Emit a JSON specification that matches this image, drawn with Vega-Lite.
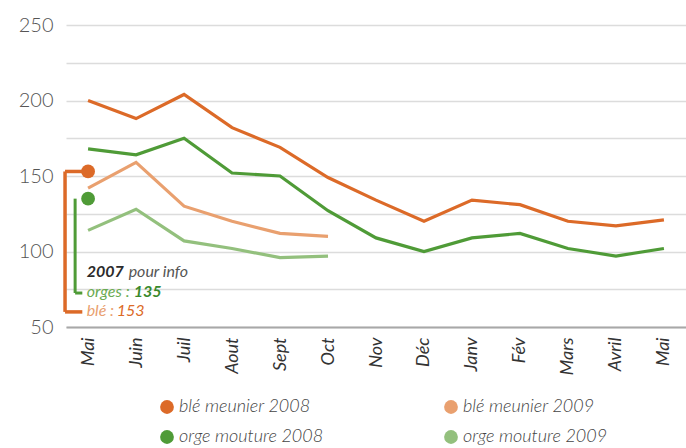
{
  "$schema": "https://vega.github.io/schema/vega-lite/v6.json",
  "width": 620,
  "height": 302,
  "autosize": {"type": "none"},
  "padding": {"left": 66, "top": 25, "right": 0, "bottom": 121},
  "background": "white",
  "config": {
    "view": {"stroke": null},
    "font": "Lato"
  },
  "datasets": {
    "lines": [
      {"m": 0, "s": "blé meunier 2008", "v": 200},
      {"m": 1, "s": "blé meunier 2008", "v": 188},
      {"m": 2, "s": "blé meunier 2008", "v": 204},
      {"m": 3, "s": "blé meunier 2008", "v": 182},
      {"m": 4, "s": "blé meunier 2008", "v": 169},
      {"m": 5, "s": "blé meunier 2008", "v": 149},
      {"m": 6, "s": "blé meunier 2008", "v": 134},
      {"m": 7, "s": "blé meunier 2008", "v": 120},
      {"m": 8, "s": "blé meunier 2008", "v": 134},
      {"m": 9, "s": "blé meunier 2008", "v": 131},
      {"m": 10, "s": "blé meunier 2008", "v": 120},
      {"m": 11, "s": "blé meunier 2008", "v": 117},
      {"m": 12, "s": "blé meunier 2008", "v": 121},
      {"m": 0, "s": "orge mouture 2008", "v": 168},
      {"m": 1, "s": "orge mouture 2008", "v": 164},
      {"m": 2, "s": "orge mouture 2008", "v": 175},
      {"m": 3, "s": "orge mouture 2008", "v": 152},
      {"m": 4, "s": "orge mouture 2008", "v": 150},
      {"m": 5, "s": "orge mouture 2008", "v": 127},
      {"m": 6, "s": "orge mouture 2008", "v": 109},
      {"m": 7, "s": "orge mouture 2008", "v": 100},
      {"m": 8, "s": "orge mouture 2008", "v": 109},
      {"m": 9, "s": "orge mouture 2008", "v": 112},
      {"m": 10, "s": "orge mouture 2008", "v": 102},
      {"m": 11, "s": "orge mouture 2008", "v": 97},
      {"m": 12, "s": "orge mouture 2008", "v": 102},
      {"m": 0, "s": "blé meunier 2009", "v": 142},
      {"m": 1, "s": "blé meunier 2009", "v": 159},
      {"m": 2, "s": "blé meunier 2009", "v": 130},
      {"m": 3, "s": "blé meunier 2009", "v": 120},
      {"m": 4, "s": "blé meunier 2009", "v": 112},
      {"m": 5, "s": "blé meunier 2009", "v": 110},
      {"m": 0, "s": "orge mouture 2009", "v": 114},
      {"m": 1, "s": "orge mouture 2009", "v": 128},
      {"m": 2, "s": "orge mouture 2009", "v": 107},
      {"m": 3, "s": "orge mouture 2009", "v": 102},
      {"m": 4, "s": "orge mouture 2009", "v": 96},
      {"m": 5, "s": "orge mouture 2009", "v": 97}
    ],
    "dots": [
      {"m": 0, "s": "blé meunier 2008", "v": 153},
      {"m": 0, "s": "orge mouture 2008", "v": 135}
    ],
    "bracketBle": [
      {"x1": -0.48, "x2": -0.48, "y1": 153, "y2": 60},
      {"x1": -0.48, "x2": -0.05, "y1": 153, "y2": 153},
      {"x1": -0.48, "x2": -0.12, "y1": 60, "y2": 60}
    ],
    "bracketOrge": [
      {"x1": -0.27, "x2": -0.27, "y1": 135, "y2": 72.5},
      {"x1": -0.27, "x2": -0.12, "y1": 72.5, "y2": 72.5}
    ]
  },
  "encoding": {
    "x": {
      "field": "m",
      "type": "quantitative",
      "scale": {"domain": [-0.46, 12.46], "nice": false, "zero": false},
      "axis": {
        "title": null,
        "values": [0, 1, 2, 3, 4, 5, 6, 7, 8, 9, 10, 11, 12],
        "labelExpr": "['Mai','Juin','Juil','Aout','Sept','Oct','Nov','Déc','Janv','Fév','Mars','Avril','Mai'][datum.value]",
        "grid": false,
        "ticks": false,
        "domain": true,
        "domainColor": "#a8a8a8",
        "domainWidth": 2,
        "labelAngle": -90,
        "labelAlign": "right",
        "labelBaseline": "middle",
        "labelPadding": 10,
        "labelFontSize": 18,
        "labelFontStyle": "italic",
        "labelColor": "#333333",
        "labelFont": "Lato"
      }
    },
    "y": {
      "field": "v",
      "type": "quantitative",
      "scale": {"domain": [50, 250], "nice": false, "zero": false},
      "axis": {
        "title": null,
        "values": [50, 75, 100, 125, 150, 175, 200, 225, 250],
        "labelExpr": "datum.value % 50 == 0 ? datum.label : ''",
        "grid": true,
        "gridColor": "#dcdcdc",
        "gridWidth": 1.5,
        "ticks": false,
        "domain": false,
        "labelPadding": 13,
        "labelFontSize": 20,
        "labelColor": "#555555",
        "labelFont": "Lato",
        "labelFontWeight": 300
      }
    }
  },
  "layer": [
    {
      "data": {"name": "lines"},
      "mark": {"type": "line", "strokeWidth": 3.2, "strokeJoin": "miter"},
      "encoding": {
        "color": {
          "field": "s",
          "type": "nominal",
          "scale": {
            "domain": ["blé meunier 2008", "orge mouture 2008", "blé meunier 2009", "orge mouture 2009"],
            "range": ["#dc6a28", "#4f9b37", "#e9a06f", "#93c07d"]
          },
          "legend": {
            "title": null,
            "orient": "none",
            "legendX": 92,
            "legendY": 373,
            "columns": 2,
            "columnPadding": 118,
            "rowPadding": 12,
            "symbolType": "circle",
            "symbolSize": 190,
            "symbolStrokeWidth": 0,
            "symbolOpacity": 1,
            "labelFontSize": 18,
            "labelFontStyle": "italic",
            "labelFontWeight": 300,
            "labelColor": "#444444",
            "labelOffset": 3,
            "labelLimit": 300
          }
        }
      }
    },
    {
      "data": {"name": "dots"},
      "mark": {"type": "circle", "size": 190, "opacity": 1},
      "encoding": {
        "color": {"field": "s", "type": "nominal"}
      }
    },
    {
      "data": {"name": "bracketBle"},
      "mark": {"type": "rule", "strokeWidth": 3.5, "color": "#dc6a28"},
      "encoding": {
        "x": {"field": "x1", "type": "quantitative"},
        "x2": {"field": "x2"},
        "y": {"field": "y1", "type": "quantitative"},
        "y2": {"field": "y2"}
      }
    },
    {
      "data": {"name": "bracketOrge"},
      "mark": {"type": "rule", "strokeWidth": 3, "color": "#4f9b37"},
      "encoding": {
        "x": {"field": "x1", "type": "quantitative"},
        "x2": {"field": "x2"},
        "y": {"field": "y1", "type": "quantitative"},
        "y2": {"field": "y2"}
      }
    },
    {
      "data": {"values": [{"m": -0.03, "v": 86.4, "t": "2007"}]},
      "mark": {"type": "text", "align": "left", "baseline": "middle", "fontSize": 16, "fontStyle": "italic", "fontWeight": "bold", "color": "#2b2b2b"},
      "encoding": {"text": {"field": "t"}}
    },
    {
      "data": {"values": [{"m": -0.03, "v": 86.4, "t": "pour info"}]},
      "mark": {"type": "text", "align": "left", "baseline": "middle", "fontSize": 16, "fontStyle": "italic", "color": "#555555", "dx": 42},
      "encoding": {"text": {"field": "t"}}
    },
    {
      "data": {"values": [{"m": -0.03, "v": 73.2, "t": "orges :"}]},
      "mark": {"type": "text", "align": "left", "baseline": "middle", "fontSize": 16, "fontStyle": "italic", "color": "#6aab52"},
      "encoding": {"text": {"field": "t"}}
    },
    {
      "data": {"values": [{"m": -0.03, "v": 73.2, "t": "135"}]},
      "mark": {"type": "text", "align": "left", "baseline": "middle", "fontSize": 16, "fontStyle": "italic", "fontWeight": "bold", "color": "#3a8a2c", "dx": 47},
      "encoding": {"text": {"field": "t"}}
    },
    {
      "data": {"values": [{"m": -0.03, "v": 60.6, "t": "blé :"}]},
      "mark": {"type": "text", "align": "left", "baseline": "middle", "fontSize": 16, "fontStyle": "italic", "color": "#e9a06f"},
      "encoding": {"text": {"field": "t"}}
    },
    {
      "data": {"values": [{"m": -0.03, "v": 60.6, "t": "153"}]},
      "mark": {"type": "text", "align": "left", "baseline": "middle", "fontSize": 16, "fontStyle": "italic", "color": "#dc6a28", "dx": 30},
      "encoding": {"text": {"field": "t"}}
    }
  ]
}
